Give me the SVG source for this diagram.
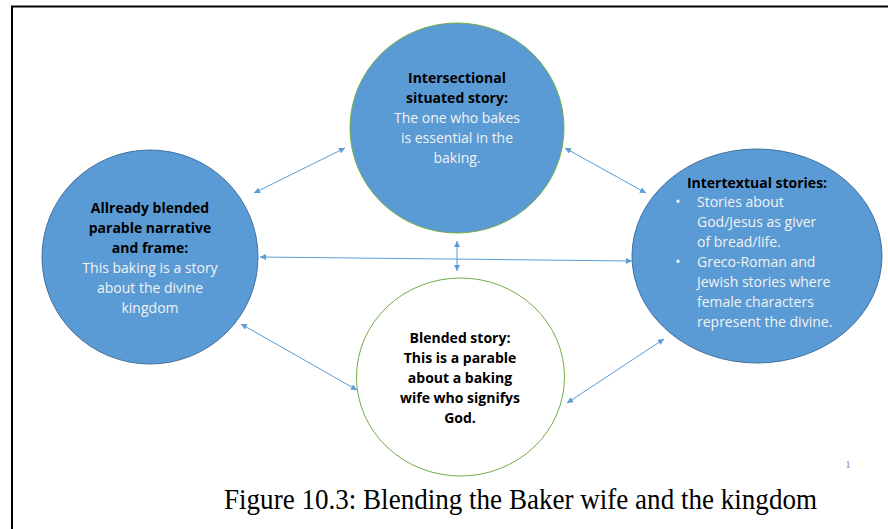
<svg xmlns="http://www.w3.org/2000/svg" width="888" height="529" viewBox="0 0 888 529">
<style>
.t{font-family:"Open Sans","Liberation Sans",sans-serif;font-size:14px;text-anchor:middle}
.b{font-weight:bold;fill:#000}
.w{fill:#F2F2F2}
.l{text-anchor:start}
.con{stroke:#5B9BD5;stroke-width:1;fill:none;marker-start:url(#ah);marker-end:url(#ah)}
</style>
<defs>
<marker id="ah" viewBox="0 0 10 10" refX="10" refY="5" markerWidth="7" markerHeight="6" markerUnits="userSpaceOnUse" orient="auto-start-reverse">
<path d="M0,0 L10,5 L0,10 z" fill="#5B9BD5"/>
</marker>
</defs>
<rect x="0" y="0" width="888" height="529" fill="#fff"/>
<rect x="12" y="6.5" width="900" height="540" fill="none" stroke="#000" stroke-width="2"/>
<g id="connectors">
<line class="con" x1="254" y1="193" x2="345" y2="148"/>
<line class="con" x1="565" y1="148" x2="646" y2="193"/>
<line class="con" x1="260" y1="257" x2="632" y2="261"/>
<line class="con" x1="457" y1="241" x2="457" y2="271"/>
<line class="con" x1="241" y1="324" x2="357" y2="390"/>
<line class="con" x1="567" y1="403" x2="664" y2="339"/>
</g>
<g id="left">
<ellipse cx="150" cy="257" rx="108" ry="107" fill="#5B9BD5" stroke="#41719C" stroke-width="1"/>
<text class="t b" x="150" y="213">Allready blended</text>
<text class="t b" x="150" y="233">parable narrative</text>
<text class="t b" x="150" y="253">and frame:</text>
<text class="t w" x="150" y="273">This baking is a story</text>
<text class="t w" x="150" y="293">about the divine</text>
<text class="t w" x="150" y="313">kingdom</text>
</g>
<g id="top">
<ellipse cx="457" cy="128" rx="107" ry="105" fill="#5B9BD5" stroke="#70AD47" stroke-width="1"/>
<text class="t b" x="457" y="83">Intersectional</text>
<text class="t b" x="457" y="103">situated story:</text>
<text class="t w" x="457" y="123">The one who bakes</text>
<text class="t w" x="457" y="143">is essential in the</text>
<text class="t w" x="457" y="163">baking.</text>
</g>
<g id="right">
<ellipse cx="757" cy="256" rx="125" ry="107" fill="#5B9BD5" stroke="#41719C" stroke-width="1"/>
<text class="t b" x="757" y="188">Intertextual stories:</text>
<text class="t w" x="678" y="207">•</text>
<text class="t w l" x="697" y="207">Stories about</text>
<text class="t w l" x="697" y="227">God/Jesus as giver</text>
<text class="t w l" x="697" y="247">of bread/life.</text>
<text class="t w" x="678" y="267">•</text>
<text class="t w l" x="697" y="267">Greco-Roman and</text>
<text class="t w l" x="697" y="287">Jewish stories where</text>
<text class="t w l" x="697" y="307">female characters</text>
<text class="t w l" x="697" y="327">represent the divine.</text>
</g>
<g id="bottom">
<ellipse cx="460.5" cy="377" rx="104" ry="99" fill="#fff" stroke="#70AD47" stroke-width="1"/>
<text class="t b" x="460" y="343">Blended story:</text>
<text class="t b" x="460" y="363">This is a parable</text>
<text class="t b" x="460" y="383">about a baking</text>
<text class="t b" x="460" y="403">wife who signifys</text>
<text class="t b" x="460" y="423">God.</text>
</g>
<text x="848" y="468" font-family="Liberation Serif,serif" font-size="10" fill="#888" text-anchor="middle">1</text>
<text x="224" y="509" font-family="Liberation Serif,serif" font-size="28.5" fill="#000" textLength="593" lengthAdjust="spacingAndGlyphs">Figure 10.3: Blending the Baker wife and the kingdom</text>
</svg>
